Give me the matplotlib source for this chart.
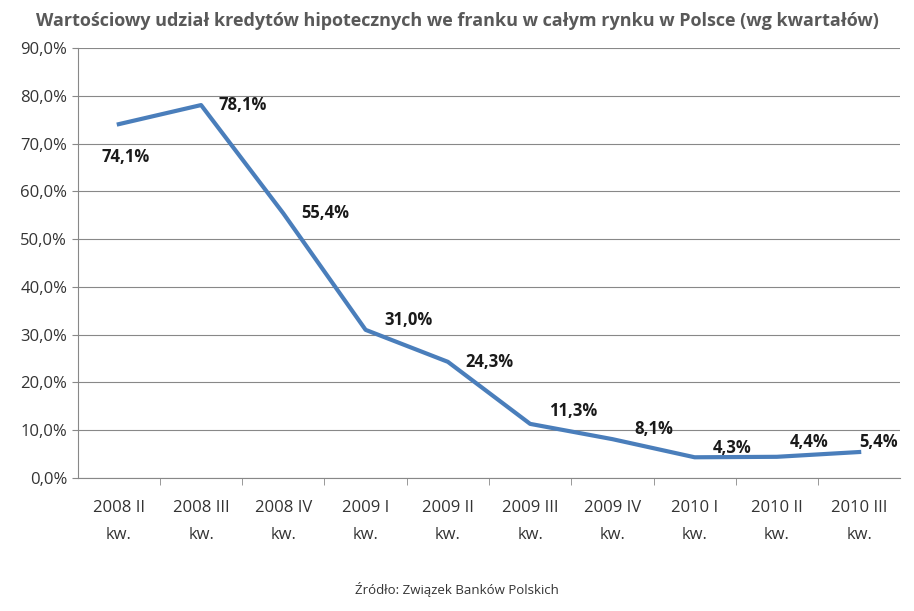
import matplotlib
matplotlib.use("Agg")
import matplotlib.pyplot as plt
from matplotlib.ticker import FuncFormatter

categories = ["2008 II\nkw.", "2008 III\nkw.", "2008 IV\nkw.", "2009 I\nkw.", "2009 II\nkw.",
              "2009 III\nkw.", "2009 IV\nkw.", "2010 I\nkw.", "2010 II\nkw.", "2010 III\nkw."]
values = [74.1, 78.1, 55.4, 31.0, 24.3, 11.3, 8.1, 4.3, 4.4, 5.4]
label_offsets = [(5, -24), (30, 0), (30, 0), (31, 7), (30, 0), (31, 9), (30, 7), (27, 7), (23, 11), (14, 7)]

plt.rcParams['font.family'] = ['Open Sans', 'DejaVu Sans']
fig = plt.figure(figsize=(9.14, 6.11), dpi=100)
ax = fig.add_axes([0.085, 0.218, 0.9, 0.703])
x = list(range(len(values)))
ax.plot(x, values, color="#4A7EBB", lw=3, solid_joinstyle='round')
for xi, v, (dx, dy) in zip(x, values, label_offsets):
    ax.annotate(f"{v:.1f}%".replace(".", ","), (xi, v), xytext=(dx, dy), textcoords="offset points",
                ha="center", va="center", fontsize=12, fontweight="bold", color="#1a1a1a")
ax.set_xlim(-0.5, len(values) - 0.5)
ax.set_ylim(0, 90)
ax.set_yticks(range(0, 91, 10))
ax.yaxis.set_major_formatter(FuncFormatter(lambda v, p: f"{v:.1f}%".replace(".", ",")))
ax.set_xticks(x)
ax.set_xticklabels(categories, fontsize=12, color="#333333", linespacing=1.9)
ax.set_xticks([i + 0.5 for i in x[:-1]], minor=True)
ax.tick_params(axis='x', which='major', length=0, pad=16)
ax.tick_params(axis='x', which='minor', length=5, color="#888888")
ax.tick_params(axis='y', labelsize=12, labelcolor="#333333", length=4, color="#888888")
ax.grid(axis='y', color="#888888", lw=0.8)
ax.set_axisbelow(True)
for s in ["top", "right"]:
    ax.spines[s].set_visible(False)
ax.spines["left"].set_color("#888888")
ax.spines["bottom"].set_color("#888888")
fig.text(0.5, 0.965, "Wartościowy udział kredytów hipotecznych we franku w całym rynku w Polsce (wg kwartałów)",
         ha="center", va="center", fontsize=13, fontweight="bold", color="#595959")
fig.text(0.5, 0.035, "Źródło: Związek Banków Polskich", ha="center", va="center", fontsize=9.5, color="#333333")
fig.savefig("out.png", dpi=100)
